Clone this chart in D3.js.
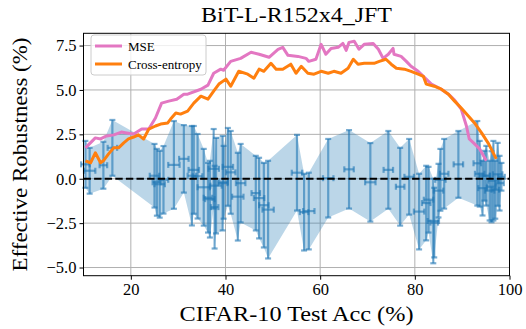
<!DOCTYPE html>
<html>
<head>
<meta charset="utf-8">
<script src="https://cdn.jsdelivr.net/npm/d3@7"></script>
<style>
  body { margin: 0; background: #fff; }
  svg { display: block; }
</style>
</head>
<body>
<svg id="chart" width="526" height="329"></svg>
<script>
// MSE curve (CIFAR-10 acc, effective robustness)
const mseAcc = [10.4, 12.5, 13.6, 14.9, 16.4, 18.0, 19.1, 20.6, 22.3, 23.8, 25.2, 26.5, 28.0, 29.7, 31.2, 32.0, 34.8, 36.3, 37.5, 39.0, 39.6, 41.1, 43.2, 45.4, 47.1, 49.2, 51.1, 52.1, 53.2, 55.3, 57.0, 57.6, 59.1, 60.2, 61.2, 62.3, 63.8, 64.8, 65.5, 66.1, 67.2, 68.2, 69.3, 71.2, 72.3, 73.3, 74.4, 75.4, 75.6, 77.1, 78.2, 79.2, 80.7, 82.4, 83.5, 85.6, 87.1, 88.4, 89.8, 90.9, 91.5, 92.4, 93.7, 95.1];
const mseRob = [1.74, 2.30, 2.24, 2.41, 2.47, 2.63, 2.58, 2.52, 2.80, 2.80, 3.42, 4.26, 4.37, 4.48, 4.76, 4.76, 5.04, 5.27, 5.94, 6.17, 6.11, 6.61, 6.78, 7.12, 7.01, 6.84, 7.29, 7.40, 6.95, 6.89, 6.78, 6.61, 6.73, 7.57, 7.01, 7.34, 7.40, 7.62, 7.23, 7.68, 7.74, 7.29, 7.57, 7.62, 7.29, 6.78, 7.01, 7.34, 7.01, 6.89, 6.61, 6.33, 6.05, 5.61, 5.33, 5.04, 4.76, 4.43, 3.92, 2.97, 2.24, 2.02, 1.68, 1.01];

// Cross-entropy curve
const ceAcc = [10.4, 11.5, 12.5, 13.6, 14.2, 15.3, 16.4, 17.4, 18.5, 19.5, 20.6, 21.6, 22.7, 23.8, 25.2, 26.3, 27.8, 28.4, 29.5, 30.5, 32.0, 33.3, 34.8, 36.3, 37.5, 38.6, 40.1, 41.1, 42.8, 44.7, 46.0, 47.1, 48.1, 49.6, 50.7, 52.1, 53.8, 54.9, 56.0, 57.4, 58.7, 60.2, 61.7, 62.9, 64.4, 65.9, 67.0, 68.0, 69.3, 71.4, 72.5, 73.9, 75.0, 76.1, 77.8, 79.2, 80.7, 81.8, 82.4, 84.1, 85.6, 87.1, 88.4, 89.8, 91.3, 92.6, 94.1, 95.6, 97.2];
const ceRob = [1.01, 0.90, 1.46, 0.90, 1.01, 1.40, 1.74, 1.74, 2.02, 2.24, 2.35, 2.47, 2.24, 2.80, 2.97, 3.08, 3.14, 3.36, 3.70, 3.64, 3.81, 4.26, 4.65, 4.48, 4.93, 5.33, 5.61, 5.21, 6.05, 5.89, 5.66, 6.17, 6.05, 6.50, 6.17, 6.17, 6.45, 5.94, 6.33, 5.94, 5.89, 6.05, 5.94, 6.05, 5.94, 6.22, 6.73, 6.45, 6.50, 6.50, 6.61, 6.73, 6.45, 6.22, 6.17, 6.05, 5.89, 5.77, 5.33, 5.21, 5.04, 4.76, 4.37, 3.98, 3.53, 3.14, 2.58, 1.96, 1.12];

// individual runs with error bars
const ebAcc = [10.4, 11.3, 14.2, 16.1, 25.0, 25.5, 26.1, 26.9, 29.1, 31.2, 32.9, 33.3, 34.1, 35.4, 36.3, 36.7, 37.5, 37.7, 38.0, 39.4, 39.6, 40.5, 41.1, 42.6, 43.2, 46.4, 47.1, 48.1, 49.0, 55.1, 56.6, 57.6, 61.7, 66.1, 70.6, 74.4, 76.9, 78.8, 80.9, 82.4, 82.9, 83.9, 84.1, 85.0, 85.4, 86.2, 89.2, 93.2, 93.7, 94.3, 94.7, 95.1, 95.8, 96.2, 96.6, 97.0, 97.5, 97.9, 98.3];
const ebRob = [0.81, 0.45, 0.76, 1.74, 0.17, -0.20, -0.31, -0.06, 0.78, 1.12, 0.17, 0.50, 0.14, -0.48, -1.07, -1.15, 0.56, -1.60, -0.39, -0.25, -0.20, 0.67, 0.36, -1.01, -0.25, -0.81, -1.09, -1.49, -1.74, 0.34, -1.88, -1.82, 0.03, 0.53, -0.20, 0.50, -0.45, 0.11, -1.85, -1.37, -1.18, -2.38, -2.47, -0.67, -0.06, 0.28, 0.81, 0.87, 0.28, -0.53, 0.17, 0.17, -0.67, -0.45, -0.11, -0.62, 0.25, -0.25, 0.11];
const ebRobErr = [1.32, 1.29, 1.32, 1.57, 1.79, 1.88, 1.88, 1.90, 2.47, 1.90, 2.80, 2.47, 2.38, 2.16, 1.96, 2.16, 2.24, 2.33, 2.69, 2.66, 2.05, 2.19, 2.33, 2.47, 2.21, 2.10, 2.27, 2.38, 2.75, 2.13, 2.16, 2.16, 2.21, 2.21, 2.21, 2.19, 2.19, 2.13, 2.13, 2.10, 1.85, 2.38, 1.96, 1.51, 1.74, 1.96, 1.88, 2.38, 1.85, 1.54, 1.40, 1.68, 1.68, 2.00, 2.24, 1.63, 1.77, 1.54, 0.78];
const ebAccErr = [0.9, 1.2, 0.8, 1.0, 1.0, 0.9, 1.1, 1.0, 1.2, 1.0, 0.9, 1.1, 1.0, 1.3, 0.9, 1.0, 1.1, 0.8, 1.2, 1.0, 0.9, 1.1, 1.0, 1.2, 1.0, 0.9, 1.1, 1.0, 1.2, 1.1, 0.9, 1.2, 1.1, 1.0, 1.1, 1.0, 0.9, 1.0, 1.1, 0.9, 1.0, 1.2, 0.8, 1.0, 1.1, 0.9, 1.0, 0.8, 1.0, 0.9, 1.1, 0.8, 1.0, 0.9, 1.1, 0.8, 1.0, 0.9, 0.7];

const xTicks = [20, 40, 60, 80, 100];
const yTicks = [-5, -2.5, 0, 2.5, 5, 7.5];

const plotLeft = 83.5, plotRight = 509.5, plotTop = 33.3, plotBottom = 275.7;
const font = '"Liberation Serif", "DejaVu Serif", serif';
const blue = '#1f77b4';

const svg = d3.select('svg#chart');

const x = d3.scaleLinear().domain([10, 100]).range([plotLeft, plotRight]);
const y = d3.scaleLinear().domain([-5.46, 8.19]).range([plotBottom, plotTop]);

// grid
svg.append('g')
  .selectAll('line')
  .data(xTicks)
  .enter()
  .append('line')
  .attr('x1', (d) => x(d))
  .attr('x2', (d) => x(d))
  .attr('y1', plotTop)
  .attr('y2', plotBottom)
  .attr('stroke', '#b0b0b0')
  .attr('stroke-width', 1);

svg.append('g')
  .selectAll('line')
  .data(yTicks)
  .enter()
  .append('line')
  .attr('x1', plotLeft)
  .attr('x2', plotRight)
  .attr('y1', (d) => y(d))
  .attr('y2', (d) => y(d))
  .attr('stroke', '#b0b0b0')
  .attr('stroke-width', 1);

// shaded band spanning the error bars
const runs = ebAcc.map((a, i) => ({
  acc: a, rob: ebRob[i], err: ebRobErr[i], xerr: ebAccErr[i],
})).sort((a, b) => a.acc - b.acc);

const band = d3.area()
  .x((d) => x(d.acc))
  .y0((d) => y(d.rob - d.err))
  .y1((d) => y(d.rob + d.err));

svg.append('path')
  .attr('d', band(runs))
  .attr('fill', blue)
  .attr('fill-opacity', 0.3);

// error bars
const CAP = 3;
const eb = svg.append('g')
  .attr('stroke', blue)
  .attr('stroke-width', 2.2)
  .attr('stroke-opacity', 0.6);

runs.forEach((d) => {
  const cx = x(d.acc);
  const cy = y(d.rob);
  const y0 = y(d.rob - d.err);
  const y1 = y(d.rob + d.err);
  const x0 = x(d.acc - d.xerr);
  const x1 = x(d.acc + d.xerr);
  eb.append('line').attr('x1', cx).attr('x2', cx).attr('y1', y0).attr('y2', y1);
  eb.append('line').attr('x1', cx - CAP).attr('x2', cx + CAP).attr('y1', y0).attr('y2', y0);
  eb.append('line').attr('x1', cx - CAP).attr('x2', cx + CAP).attr('y1', y1).attr('y2', y1);
  eb.append('line').attr('x1', x0).attr('x2', x1).attr('y1', cy).attr('y2', cy);
  eb.append('line').attr('x1', x0).attr('x2', x0).attr('y1', cy - CAP).attr('y2', cy + CAP);
  eb.append('line').attr('x1', x1).attr('x2', x1).attr('y1', cy - CAP).attr('y2', cy + CAP);
});

// zero line
svg.append('line')
  .attr('x1', plotLeft)
  .attr('x2', plotRight)
  .attr('y1', y(0))
  .attr('y2', y(0))
  .attr('stroke', 'black')
  .attr('stroke-width', 2)
  .attr('stroke-dasharray', '7.4,3.2');

// curves
const line = d3.line()
  .x((d) => x(d[0]))
  .y((d) => y(d[1]))
  .curve(d3.curveLinear);

svg.append('path')
  .attr('d', line(mseAcc.map((a, i) => [a, mseRob[i]])))
  .attr('fill', 'none')
  .attr('stroke', '#e377c2')
  .attr('stroke-width', 3)
  .attr('stroke-linejoin', 'round');

svg.append('path')
  .attr('d', line(ceAcc.map((a, i) => [a, ceRob[i]])))
  .attr('fill', 'none')
  .attr('stroke', '#ff7f0e')
  .attr('stroke-width', 3)
  .attr('stroke-linejoin', 'round');

// frame
svg.append('rect')
  .attr('x', plotLeft)
  .attr('y', plotTop)
  .attr('width', plotRight - plotLeft)
  .attr('height', plotBottom - plotTop)
  .attr('fill', 'none')
  .attr('stroke', 'black')
  .attr('stroke-width', 1);

// axes
const fmt = d3.format('.1f');
const xAxis = svg.append('g')
  .attr('transform', `translate(0,${plotBottom})`)
  .call(d3.axisBottom(x).tickValues(xTicks).tickSize(4).tickSizeOuter(0).tickPadding(4));
const yAxis = svg.append('g')
  .attr('transform', `translate(${plotLeft},0)`)
  .call(d3.axisLeft(y).tickValues(yTicks).tickFormat(fmt).tickSize(4).tickSizeOuter(0).tickPadding(3));

[xAxis, yAxis].forEach((g) => {
  g.select('.domain').remove();
  g.selectAll('line').attr('stroke', 'black');
  g.selectAll('text')
    .attr('fill', 'black')
    .style('font-family', font)
    .style('font-size', '16.5px');
});

// labels
svg.append('text')
  .attr('x', (plotLeft + plotRight) / 2)
  .attr('y', 22)
  .attr('text-anchor', 'middle')
  .attr('textLength', 191)
  .attr('lengthAdjust', 'spacingAndGlyphs')
  .style('font-family', font)
  .style('font-size', '21px')
  .text('BiT-L-R152x4_JFT');

svg.append('text')
  .attr('x', (plotLeft + plotRight) / 2)
  .attr('y', 321)
  .attr('text-anchor', 'middle')
  .attr('textLength', 234)
  .attr('lengthAdjust', 'spacingAndGlyphs')
  .style('font-family', font)
  .style('font-size', '22px')
  .text('CIFAR-10 Test Acc (%)');

svg.append('text')
  .attr('transform', `translate(27,${(plotTop + plotBottom) / 2}) rotate(-90)`)
  .attr('text-anchor', 'middle')
  .attr('textLength', 234)
  .attr('lengthAdjust', 'spacingAndGlyphs')
  .style('font-family', font)
  .style('font-size', '22px')
  .text('Effective Robustness (%)');

// legend
const lg = svg.append('g');
lg.append('rect')
  .attr('x', 91)
  .attr('y', 35)
  .attr('width', 115)
  .attr('height', 40)
  .attr('rx', 3)
  .attr('fill', 'white')
  .attr('fill-opacity', 0.8)
  .attr('stroke', '#cccccc')
  .attr('stroke-width', 1);

const legendItems = [
  { name: 'MSE', color: '#e377c2', ly: 46 },
  { name: 'Cross-entropy', color: '#ff7f0e', ly: 64 },
];
legendItems.forEach((d) => {
  lg.append('line')
    .attr('x1', 95).attr('x2', 122)
    .attr('y1', d.ly).attr('y2', d.ly)
    .attr('stroke', d.color)
    .attr('stroke-width', 3);
  lg.append('text')
    .attr('x', 128)
    .attr('y', d.ly + 4.5)
    .style('font-family', font)
    .style('font-size', '13px')
    .text(d.name);
});
</script>
</body>
</html>
